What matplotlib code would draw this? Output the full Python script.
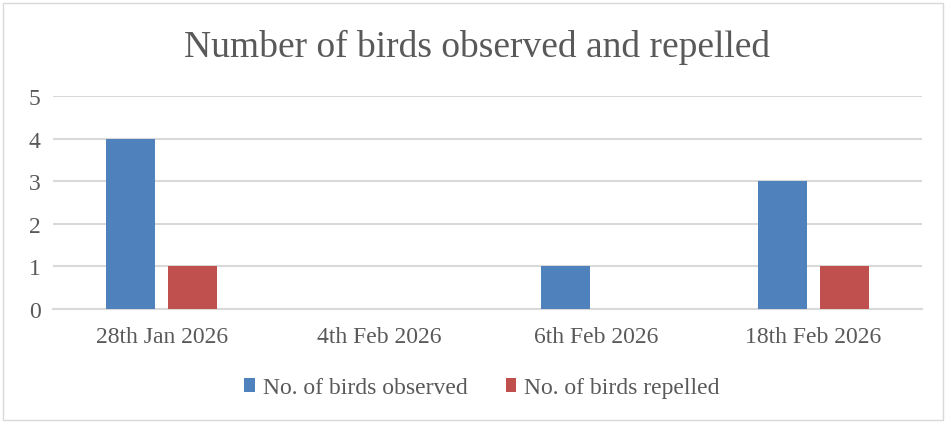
import numpy as np
import matplotlib.pyplot as plt
from matplotlib.patches import Rectangle

dates = ['28th Jan 2026', '4th Feb 2026', '6th Feb 2026', '18th Feb 2026']
observed = [4, 0, 1, 3]
repelled = [1, 0, 0, 1]

blue = '#4F81BD'
red = '#C0504D'
txt = '#595959'
plt.rcParams['font.family'] = ['Liberation Serif', 'DejaVu Serif']

fig = plt.figure(figsize=(9.51, 4.27), dpi=100)
ax = fig.add_axes([53/951, 1-310/427, 869/951, 213/427])

x = np.arange(len(dates))
w = 0.226
ax.bar(x - 0.143, observed, w, color=blue, label='No. of birds observed', zorder=3)
ax.bar(x + 0.143, repelled, w, color=red, label='No. of birds repelled', zorder=3)

ax.set_xlim(-0.5, 3.5)
ax.set_ylim(0, 5)
ax.set_yticks(range(6))
ax.grid(axis='y', color='#D9D9D9', linewidth=1.5, zorder=0)
ax.set_xticks(x)
ax.set_xticklabels(dates)
ax.tick_params(length=0, labelsize=17, colors=txt)
ax.tick_params(axis='y', pad=9)
ax.tick_params(axis='x', pad=12)
for s in ['top', 'right', 'left']:
    ax.spines[s].set_visible(False)
ax.spines['bottom'].set_color('#D9D9D9')
ax.spines['bottom'].set_linewidth(1.5)

fig.text(477/951, 1-47/427, 'Number of birds observed and repelled', ha='center', va='center',
         fontsize=27, color=txt)

fig.legend(loc='center', bbox_to_anchor=(482/951, 1-389/427), ncol=2, frameon=False,
           fontsize=17, labelcolor=txt, handlelength=0.45, handleheight=0.5,
           handletextpad=0.35, columnspacing=1.6)

fig.patches.append(Rectangle((3/951, 1-421/427), 940/951, 417/427, transform=fig.transFigure,
                             fill=False, edgecolor='#D9D9D9', linewidth=1))

fig.savefig('out.png', dpi=100, facecolor='white')
